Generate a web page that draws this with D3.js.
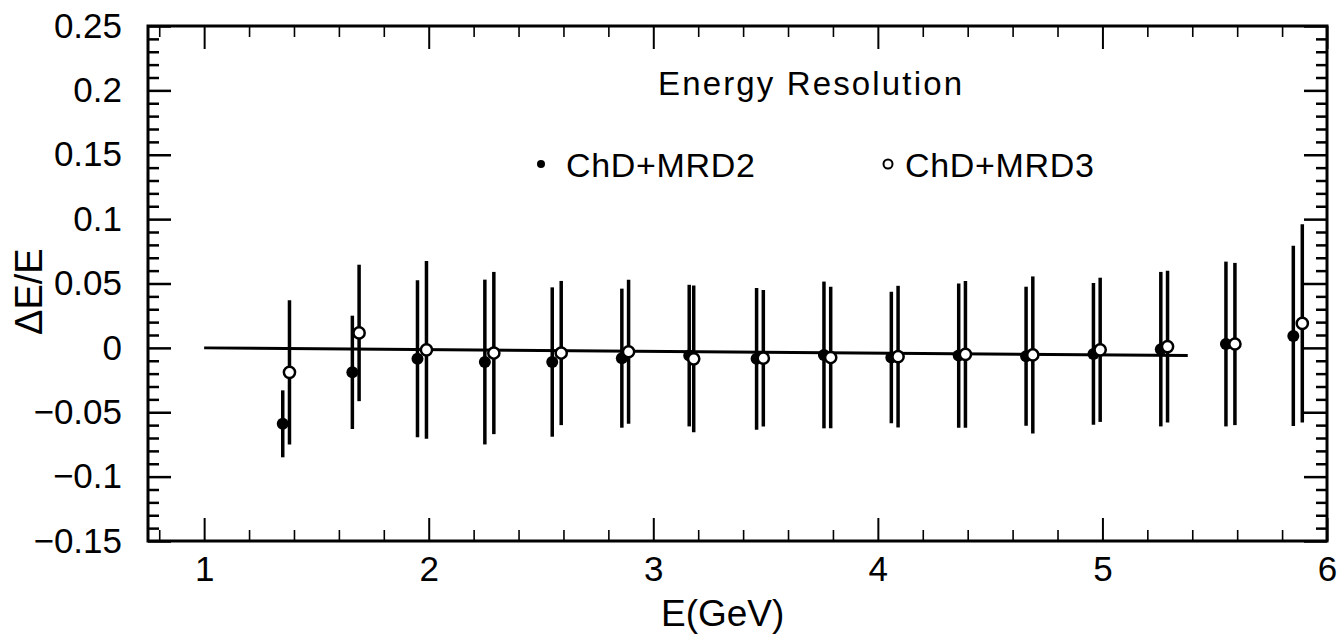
<!DOCTYPE html>
<html>
<head>
<meta charset="utf-8">
<script src="https://cdn.jsdelivr.net/npm/d3@7"></script>
<style>
  html, body { margin: 0; padding: 0; background: #fff; }
  svg { display: block; }
  text { font-family: "Liberation Sans", Arial, sans-serif; fill: #000; }
</style>
</head>
<body>
<svg id="chart" width="1338" height="639"></svg>
<script>
// ---- data ----
const energyMRD2 = [1.35, 1.66, 1.95, 2.25, 2.55, 2.86, 3.16, 3.46, 3.76, 4.06, 4.36, 4.66, 4.96, 5.26, 5.55, 5.85];
const resMRD2    = [-0.059, -0.019, -0.0085, -0.011, -0.011, -0.008, -0.006, -0.0085, -0.0055, -0.0075, -0.006, -0.0065, -0.0047, -0.001, 0.003, 0.0093];
const errMRD2    = [0.026, 0.044, 0.061, 0.064, 0.058, 0.054, 0.055, 0.055, 0.057, 0.051, 0.056, 0.054, 0.055, 0.060, 0.064, 0.070];

const energyMRD3 = [1.38, 1.69, 1.99, 2.29, 2.59, 2.89, 3.18, 3.49, 3.79, 4.09, 4.39, 4.69, 4.99, 5.29, 5.59, 5.89];
const resMRD3    = [-0.019, 0.0116, -0.0015, -0.004, -0.004, -0.003, -0.0085, -0.008, -0.0075, -0.0068, -0.005, -0.0055, -0.0015, 0.001, 0.003, 0.019];
const errMRD3    = [0.056, 0.053, 0.069, 0.063, 0.056, 0.056, 0.057, 0.053, 0.055, 0.055, 0.057, 0.061, 0.056, 0.059, 0.063, 0.077];

const fitE   = [1.0, 5.38];
const fitRes = [0.0, -0.006];

const xTicks = [1, 2, 3, 4, 5, 6];
const xTickLabels = ["1", "2", "3", "4", "5", "6"];
const yTicks = [-0.15, -0.1, -0.05, 0, 0.05, 0.1, 0.15, 0.2, 0.25];
const yTickLabels = ["\u22120.15", "\u22120.1", "\u22120.05", "0", "0.05", "0.1", "0.15", "0.2", "0.25"];
const xMinor = [0.8, 1.2, 1.4, 1.6, 1.8, 2.2, 2.4, 2.6, 2.8, 3.2, 3.4, 3.6, 3.8, 4.2, 4.4, 4.6, 4.8, 5.2, 5.4, 5.6, 5.8];
const yMinorStep = 0.01;

const title = "Energy Resolution";
const seriesNames = ["ChD+MRD2", "ChD+MRD3"];
const xTitle = "E(GeV)";
const yTitle = "\u0394E/E";

// ---- layout ----
const L = 148, R = 1327, T = 26, B = 541;
const svg = d3.select("#chart");
const x = d3.scaleLinear().domain([0.75, 6]).range([L, R]);
const y = d3.scaleLinear().domain([-0.15, 0.25]).range([B, T]);

const yMinor = d3.range(-0.15, 0.2501, yMinorStep).map(v => +v.toFixed(3))
  .filter(v => Math.abs(Math.round(v / 0.05) * 0.05 - v) > 1e-6);

function styleAxis(g, w) {
  g.select(".domain").remove();
  g.selectAll(".tick line").attr("stroke", "#000").attr("stroke-width", w);
}
const tickFont = 35;

// bottom axis
svg.append("g").attr("transform", `translate(0,${B})`)
  .call(d3.axisBottom(x).tickValues(xTicks).tickFormat((d, i) => xTickLabels[i]).tickSize(-23).tickPadding(15))
  .call(g => styleAxis(g, 2))
  .call(g => g.selectAll("text").attr("font-size", tickFont).style("font-family", "Liberation Sans, Arial, sans-serif"));
svg.append("g").attr("transform", `translate(0,${B})`)
  .call(d3.axisBottom(x).tickValues(xMinor).tickFormat("").tickSize(-11))
  .call(g => styleAxis(g, 1.6));
// top axis
svg.append("g").attr("transform", `translate(0,${T})`)
  .call(d3.axisTop(x).tickValues(xTicks).tickFormat("").tickSize(-23))
  .call(g => styleAxis(g, 2));
svg.append("g").attr("transform", `translate(0,${T})`)
  .call(d3.axisTop(x).tickValues(xMinor).tickFormat("").tickSize(-11))
  .call(g => styleAxis(g, 1.6));
// left axis
svg.append("g").attr("transform", `translate(${L},0)`)
  .call(d3.axisLeft(y).tickValues(yTicks).tickFormat((d, i) => yTickLabels[i]).tickSize(-23).tickPadding(26))
  .call(g => styleAxis(g, 2.5))
  .call(g => g.selectAll("text").attr("font-size", tickFont).style("font-family", "Liberation Sans, Arial, sans-serif"));
svg.append("g").attr("transform", `translate(${L},0)`)
  .call(d3.axisLeft(y).tickValues(yMinor).tickFormat("").tickSize(-11))
  .call(g => styleAxis(g, 2.5));
// right axis
svg.append("g").attr("transform", `translate(${R},0)`)
  .call(d3.axisRight(y).tickValues(yTicks).tickFormat("").tickSize(-23))
  .call(g => styleAxis(g, 2.5));
svg.append("g").attr("transform", `translate(${R},0)`)
  .call(d3.axisRight(y).tickValues(yMinor).tickFormat("").tickSize(-11))
  .call(g => styleAxis(g, 2.5));

// frame
svg.append("rect").attr("x", L).attr("y", T).attr("width", R - L).attr("height", B - T)
  .attr("fill", "none").attr("stroke", "#000").attr("stroke-width", 3);

// error bars
const d2 = energyMRD2.map((e, i) => ({e, r: resMRD2[i], s: errMRD2[i]}));
const d3s = energyMRD3.map((e, i) => ({e, r: resMRD3[i], s: errMRD3[i]}));

svg.append("g").selectAll("line").data(d2.concat(d3s)).join("line")
  .attr("x1", d => x(d.e)).attr("x2", d => x(d.e))
  .attr("y1", d => y(d.r + d.s)).attr("y2", d => y(d.r - d.s))
  .attr("stroke", "#000").attr("stroke-width", 3.5);

// fit line
svg.append("path")
  .datum(fitE.map((e, i) => [e, fitRes[i]]))
  .attr("d", d3.line().x(d => x(d[0])).y(d => y(d[1])))
  .attr("fill", "none").attr("stroke", "#000").attr("stroke-width", 3);

// markers
svg.append("g").selectAll("circle").data(d2).join("circle")
  .attr("cx", d => x(d.e)).attr("cy", d => y(d.r)).attr("r", 6)
  .attr("fill", "#000");
svg.append("g").selectAll("circle").data(d3s).join("circle")
  .attr("cx", d => x(d.e)).attr("cy", d => y(d.r)).attr("r", 5.6)
  .attr("fill", "#fff").attr("stroke", "#000").attr("stroke-width", 2.5);

// title and legend
svg.append("text").attr("x", 658).attr("y", 95).attr("font-size", 33)
  .attr("textLength", 304).attr("lengthAdjust", "spacing").text(title);

svg.append("circle").attr("cx", 541).attr("cy", 164).attr("r", 4).attr("fill", "#000");
svg.append("text").attr("x", 566).attr("y", 177).attr("font-size", 34)
  .attr("textLength", 189).attr("lengthAdjust", "spacing").text(seriesNames[0]);
svg.append("circle").attr("cx", 888).attr("cy", 164).attr("r", 4.5)
  .attr("fill", "#fff").attr("stroke", "#000").attr("stroke-width", 2);
svg.append("text").attr("x", 905).attr("y", 177).attr("font-size", 34)
  .attr("textLength", 189).attr("lengthAdjust", "spacing").text(seriesNames[1]);

// axis titles
svg.append("text").attr("x", 661).attr("y", 626).attr("font-size", 37).text(xTitle);
svg.append("text").attr("transform", "translate(42,335) rotate(-90)")
  .attr("font-size", 38).text(yTitle);
</script>
</body>
</html>
